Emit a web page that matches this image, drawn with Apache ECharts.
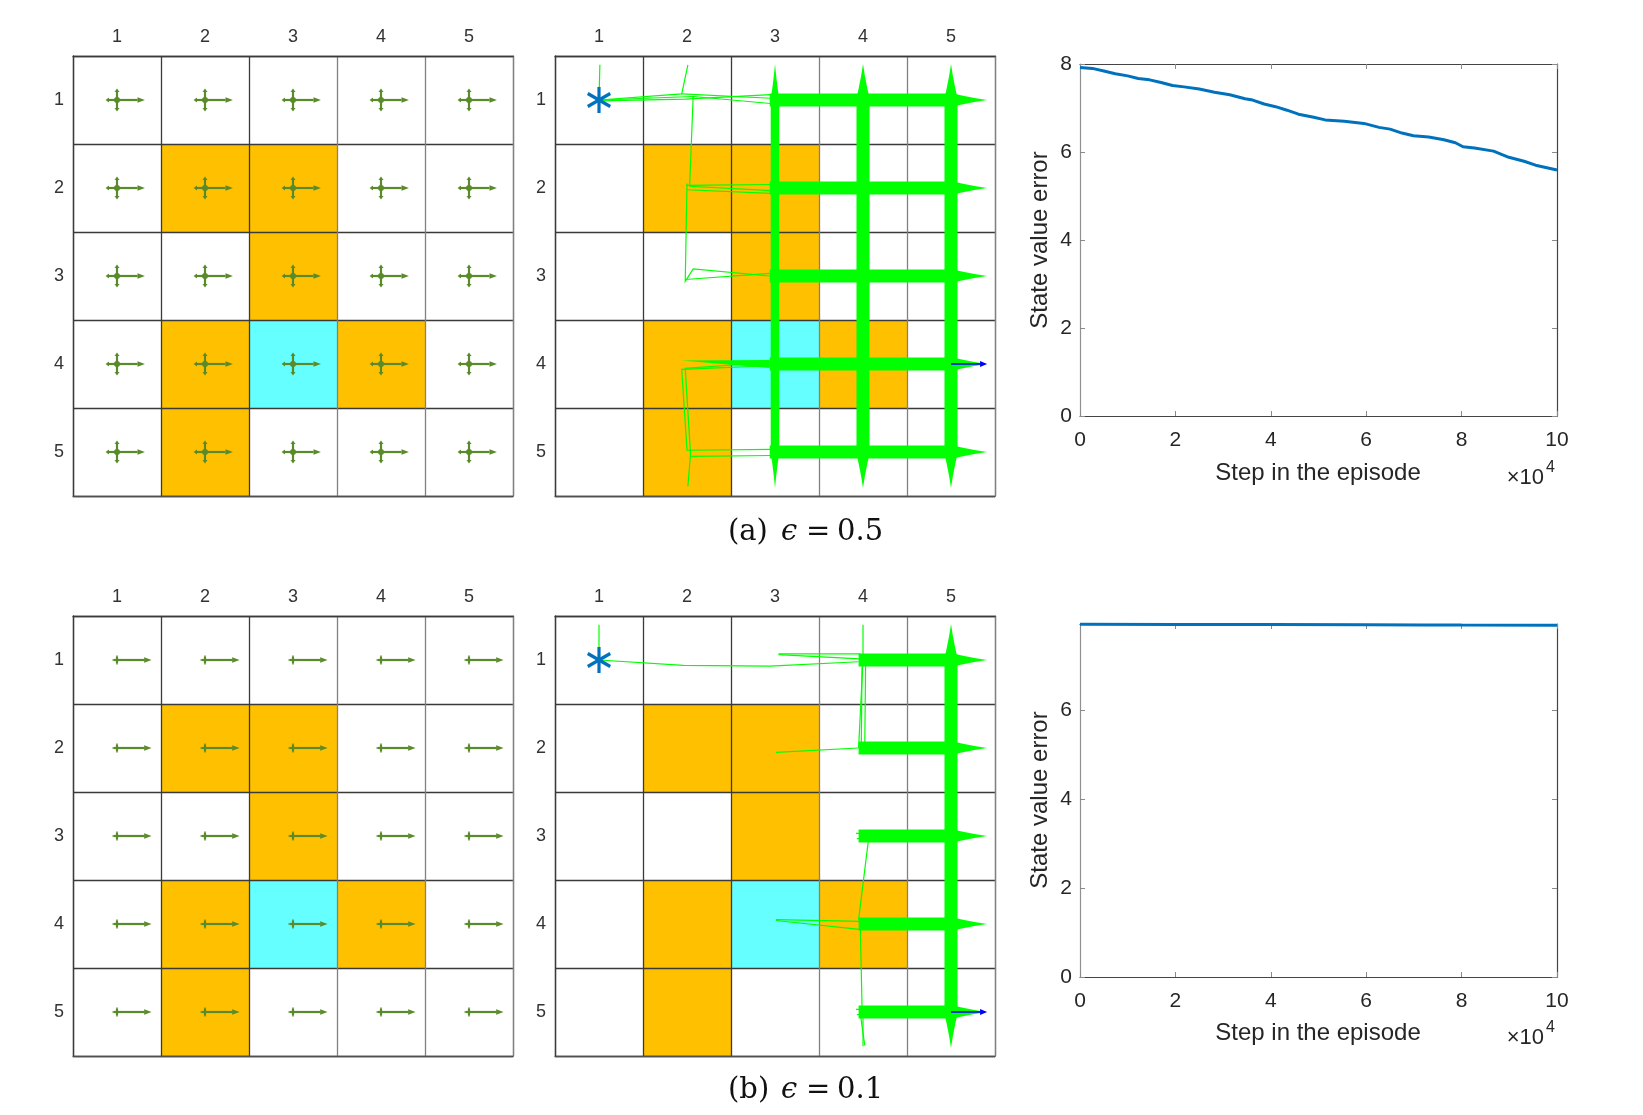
<!DOCTYPE html>
<html><head><meta charset="utf-8">
<script src="https://cdn.jsdelivr.net/npm/echarts@6/dist/echarts.min.js"></script>
<style>html,body{margin:0;padding:0;background:#fff}#c{width:1643px;height:1115px}</style>
</head><body><div id="c"></div>
<script>
// ================= DATA =================
const gridLabels = ['1', '2', '3', '4', '5'];
// grid world cells [col,row]
const forbiddenCells = [[2, 2], [3, 2], [3, 3], [2, 4], [4, 4], [2, 5]];
const targetCells = [[3, 4]];
const startCell = [1, 1];
// epsilon-greedy action probabilities: right, up, down, left, stay
const actionProbA = [0.6, 0.1, 0.1, 0.1, 0.1];   // eps = 0.5
const actionProbB = [0.92, 0.02, 0.02, 0.02, 0.02]; // eps = 0.1

// trajectory bundles: [col1,row1,col2,row2, passes at start, passes at end]
const bundlesA = [
  [2.94, 1, 5, 1, 9000, 9000], [2.94, 2, 5, 2, 9000, 9000], [2.94, 3, 5, 3, 9000, 9000],
  [2.94, 4, 5, 4, 9000, 9000], [2.94, 5, 5, 5, 9000, 9000],
  [4, 1, 4, 5, 9000, 9000], [5, 1, 5, 5, 9000, 9000], [3, 1, 3, 5, 400, 400],
  [1.94, 3.96, 2.94, 4, 0, 300]
];
// boundary bounces: [col,row, dCol,dRow, passes]
const bouncesA = [
  [5, 1, 1, 0, 9000], [5, 2, 1, 0, 9000], [5, 3, 1, 0, 9000], [5, 4, 1, 0, 9000], [5, 5, 1, 0, 9000],
  [3, 1, 0, -1, 300], [4, 1, 0, -1, 9000], [5, 1, 0, -1, 9000],
  [3, 5, 0, 1, 300], [4, 5, 0, 1, 9000], [5, 5, 0, 1, 9000]
];
// sparse single trajectory pieces [[col,row],...]
const thinPathsA = [
  [[1, 1], [1.01, 0.6]],
  [[1, 1], [1.94, 0.93], [2.01, 0.6]],
  [[1, 1], [2.07, 0.96], [2.95, 1.04]],
  [[1, 1.01], [1.98, 0.99], [2.95, 0.94]],
  [[1.94, 0.93], [2.95, 0.98]],
  [[2.07, 0.96], [2.03, 1.98], [2.96, 2.03]],
  [[2.0, 1.95], [1.98, 3.06], [2.07, 2.92], [2.94, 3.0]],
  [[1.99, 1.97], [2.96, 1.96]],
  [[2.0, 2.02], [2.95, 2.06]],
  [[1.98, 3.04], [2.94, 2.97]],
  [[2.94, 4.02], [1.94, 4.06], [2.0, 4.98], [2.96, 4.97]],
  [[2.96, 3.98], [1.98, 4.05], [2.04, 5.02], [2.01, 5.39]],
  [[2.05, 5.05], [2.95, 5.04]]
];
const lastMoveA = [[5, 4, 1, 0]];

const bundlesB = [
  [3.95, 1, 5, 1, 9000, 9000], [3.95, 2, 5, 2, 9000, 9000], [3.95, 3, 5, 3, 9000, 9000],
  [3.95, 4, 5, 4, 9000, 9000], [3.95, 5, 5, 5, 9000, 9000],
  [5, 1, 5, 5, 9000, 9000]
];
const bouncesB = [
  [5, 1, 1, 0, 9000], [5, 2, 1, 0, 9000], [5, 3, 1, 0, 9000], [5, 4, 1, 0, 9000], [5, 5, 1, 0, 9000],
  [5, 1, 0, -1, 9000], [5, 5, 0, 1, 9000]
];
const thinPathsB = [
  [[1, 1], [1, 0.6]],
  [[1, 1], [1.96, 1.06], [2.94, 1.07], [3.95, 1.02]],
  [[3.04, 0.93], [3.97, 0.93]],
  [[3.04, 0.94], [4.02, 0.99]],
  [[4.0, 0.6], [4.0, 1.0], [3.95, 2.0]],
  [[3.99, 0.97], [3.98, 2.01]],
  [[4.03, 1.02], [4.02, 1.99]],
  [[3.01, 2.05], [3.95, 2.0]],
  [[3.96, 3.0], [4.06, 3.06], [3.95, 3.95]],
  [[3.01, 3.95], [3.97, 3.97]],
  [[3.01, 3.96], [3.96, 4.06]],
  [[3.97, 4.05], [3.99, 4.98]],
  [[4.0, 5.0], [4.0, 5.39]],
  [[3.96, 4.95], [4.02, 5.38]],
  [[3.92, 2.97], [4.1, 2.97]], [[3.93, 3.03], [4.1, 3.03]],
  [[3.92, 4.97], [4.1, 4.97]], [[3.93, 5.03], [4.1, 5.03]]
];
const lastMoveB = [[5, 5, 1, 0]];

// state value error vs step (x in units of 1e4 steps)
const stepsA = [0, 0.26, 0.5, 0.74, 1.0, 1.22, 1.46, 1.7, 1.94, 2.18, 2.5, 2.82, 3.14, 3.46, 3.62, 3.86, 4.1, 4.34, 4.58, 4.9, 5.14, 5.54, 5.95, 6.27, 6.5, 6.75, 6.99, 7.31, 7.63, 7.87, 8.03, 8.27, 8.67, 8.99, 9.31, 9.55, 10];
const errorA = [7.92, 7.90, 7.84, 7.78, 7.73, 7.67, 7.64, 7.58, 7.51, 7.48, 7.43, 7.36, 7.30, 7.21, 7.18, 7.09, 7.03, 6.95, 6.86, 6.79, 6.73, 6.70, 6.65, 6.56, 6.52, 6.43, 6.37, 6.34, 6.28, 6.21, 6.12, 6.09, 6.02, 5.88, 5.79, 5.70, 5.59];
const stepsB = [0, 2, 4, 6, 7.2, 8, 10];
const errorB = [7.922, 7.92, 7.918, 7.915, 7.91, 7.906, 7.904];
const xTickMax = 10, xTickStep = 2;
const yMaxA = 8, yMaxB = 7.93, yTickStep = 2;

// ================= STYLE / LAYOUT =================
const FONT = "'Liberation Sans', Arial, Helvetica, sans-serif";
const SERIF = "'DejaVu Serif', 'Liberation Serif', serif";
const ORANGE = '#ffc000', CYAN = '#66ffff';
const ARROW_GREEN = '#5a8a2a', TRAJ = '#00ff00';
const ARROW_SCALE = 0.41;  // cells per sqrt(prob)
const TIP = 0.41;          // bounce spike length (cells)
const widthOf = v => 3.3 * Math.log10(1 + v);
const cc = v => v - 0.5;   // cell index -> axis coordinate

const grids = [
  { left: 73, top: 56, width: 440, height: 440 },
  { left: 555, top: 56, width: 440, height: 440 },
  { left: 1080, top: 64, width: 477, height: 352 },
  { left: 73, top: 616, width: 440, height: 440 },
  { left: 555, top: 616, width: 440, height: 440 },
  { left: 1080, top: 624, width: 477, height: 353 }
].map(g => Object.assign({ outerBoundsMode: 'none', containLabel: false }, g));

const xAxes = [], yAxes = [];
const DARK = '#3a3a3a', GRAY = '#808080';
function worldAxes(gi) {
  xAxes.push({
    gridIndex: gi, type: 'value', min: 0, max: 5, interval: 1, position: 'bottom',
    axisLine: { show: true, onZero: false, lineStyle: { color: '#505050', width: 1.3 } },
    axisTick: { show: false }, axisLabel: { show: false },
    splitLine: { show: true, showMinLine: true, showMaxLine: true, lineStyle: { color: [DARK, DARK, DARK, GRAY, GRAY, GRAY], width: 1.3 } }
  });
  const xi = xAxes.length - 1;
  xAxes.push({
    gridIndex: gi, type: 'category', data: gridLabels, position: 'top', boundaryGap: true,
    axisLine: { show: true, onZero: false, lineStyle: { color: DARK, width: 1.3 } },
    axisTick: { show: false }, splitLine: { show: false },
    axisLabel: { show: true, margin: 10, fontSize: 18, color: '#333', fontFamily: FONT }
  });
  yAxes.push({
    gridIndex: gi, type: 'value', min: 0, max: 5, interval: 1, inverse: true, position: 'right',
    axisLine: { show: true, onZero: false, lineStyle: { color: GRAY, width: 1.3 } },
    axisTick: { show: false }, axisLabel: { show: false },
    splitLine: { show: true, showMinLine: true, showMaxLine: true, lineStyle: { color: DARK, width: 1.3 } }
  });
  const yi = yAxes.length - 1;
  yAxes.push({
    gridIndex: gi, type: 'category', data: gridLabels, inverse: true, position: 'left', boundaryGap: true,
    axisLine: { show: true, onZero: false, lineStyle: { color: DARK, width: 1.3 } },
    axisTick: { show: false }, splitLine: { show: false },
    axisLabel: { show: true, margin: 9, fontSize: 18, color: '#333', fontFamily: FONT, padding: [4, 0, 0, 0] }
  });
  return [xi, yi];
}
function chartAxes(gi, ymax) {
  const tick = { show: true, inside: true, length: 5, lineStyle: { color: '#8a8a8a', width: 1 } };
  const fmtY = v => (Math.abs(v / yTickStep - Math.round(v / yTickStep)) < 1e-6 ? String(v) : '');
  xAxes.push({
    gridIndex: gi, type: 'value', min: 0, max: xTickMax, interval: xTickStep, position: 'bottom',
    axisLine: { show: true, onZero: false, lineStyle: { color: '#444', width: 1.2 } }, axisTick: tick,
    axisLabel: { show: true, margin: 14, fontSize: 21, color: '#262626', fontFamily: FONT },
    splitLine: { show: false }
  });
  const xi = xAxes.length - 1;
  xAxes.push({
    gridIndex: gi, type: 'value', min: 0, max: xTickMax, interval: xTickStep, position: 'top',
    axisLine: { show: true, onZero: false, lineStyle: { color: '#444', width: 1.2 } }, axisTick: tick,
    axisLabel: { show: false }, splitLine: { show: false }
  });
  yAxes.push({
    gridIndex: gi, type: 'value', min: 0, max: ymax, interval: yTickStep, position: 'left',
    axisLine: { show: true, onZero: false, lineStyle: { color: '#909090', width: 1.2 } }, axisTick: tick,
    axisLabel: { show: true, margin: 8, fontSize: 21, color: '#262626', fontFamily: FONT, formatter: fmtY, padding: [4, 0, 0, 0] },
    splitLine: { show: false }
  });
  const yi = yAxes.length - 1;
  yAxes.push({
    gridIndex: gi, type: 'value', min: 0, max: ymax, interval: yTickStep, position: 'right',
    axisLine: { show: true, onZero: false, lineStyle: { color: '#444', width: 1.2 } }, axisTick: tick,
    axisLabel: { show: false }, splitLine: { show: false }
  });
  return [xi, yi];
}

// ================= RENDERERS =================
function cellItem(params, api) {
  const p0 = api.coord([api.value(0) - 1, api.value(1) - 1]);
  const p1 = api.coord([api.value(0), api.value(1)]);
  return {
    type: 'rect',
    shape: { x: Math.min(p0[0], p1[0]), y: Math.min(p0[1], p1[1]), width: Math.abs(p1[0] - p0[0]), height: Math.abs(p1[1] - p0[1]) },
    style: { fill: api.value(2) === 1 ? CYAN : ORANGE }
  };
}
function policyItem(probs) {
  return function (params, api) {
    const c = cc(api.value(0)), r = cc(api.value(1));
    const ctr = api.coord([c, r]);
    const dirs = [[1, 0], [0, -1], [0, 1], [-1, 0]];
    const children = [];
    dirs.forEach((d, i) => {
      const len = ARROW_SCALE * Math.sqrt(probs[i]);
      const end = api.coord([c + d[0] * len, r + d[1] * len]);
      const L = Math.hypot(end[0] - ctr[0], end[1] - ctr[1]);
      const ux = (end[0] - ctr[0]) / L, uy = (end[1] - ctr[1]) / L;
      const hl = Math.min(7.5, L * 0.3), hw = Math.min(2.8, L * 0.22);
      const bx = end[0] - ux * hl, by = end[1] - uy * hl;
      children.push({ type: 'line', shape: { x1: ctr[0], y1: ctr[1], x2: bx, y2: by }, style: { stroke: ARROW_GREEN, lineWidth: 2.2 } });
      children.push({ type: 'polygon', shape: { points: [[end[0], end[1]], [bx - uy * hw, by + ux * hw], [bx + uy * hw, by - ux * hw]] }, style: { fill: ARROW_GREEN } });
    });
    children.push({ type: 'circle', shape: { cx: ctr[0], cy: ctr[1], r: 9.5 * Math.sqrt(probs[4]) }, style: { fill: ARROW_GREEN } });
    return { type: 'group', children };
  };
}
function bundleItem(params, api) {
  const a = api.coord([cc(api.value(0)), cc(api.value(1))]);
  const b = api.coord([cc(api.value(2)), cc(api.value(3))]);
  const w1 = widthOf(api.value(4)) / 2, w2 = widthOf(api.value(5)) / 2;
  const dx = b[0] - a[0], dy = b[1] - a[1], L = Math.hypot(dx, dy);
  const nx = -dy / L, ny = dx / L;
  return {
    type: 'polygon',
    shape: { points: [[a[0] + nx * w1, a[1] + ny * w1], [b[0] + nx * w2, b[1] + ny * w2], [b[0] - nx * w2, b[1] - ny * w2], [a[0] - nx * w1, a[1] - ny * w1]] },
    style: { fill: TRAJ }
  };
}
function tipItem(params, api) {
  const c = cc(api.value(0)), r = cc(api.value(1));
  const base = api.coord([c, r]);
  const end = api.coord([c + api.value(2) * TIP, r + api.value(3) * TIP]);
  const hw = widthOf(api.value(4)) / 2 * 1.08;
  const ux = end[0] - base[0], uy = end[1] - base[1], L = Math.hypot(ux, uy);
  const nx = -uy / L, ny = ux / L;
  const pt = (t, w) => [base[0] + ux * t + nx * w, base[1] + uy * t + ny * w];
  return {
    type: 'polygon',
    shape: { points: [pt(0, hw), pt(0.3, hw * 0.64), pt(0.65, hw * 0.28), pt(1, 0), pt(0.65, -hw * 0.28), pt(0.3, -hw * 0.64), pt(0, -hw)] },
    style: { fill: TRAJ }
  };
}
function lastMoveItem(params, api) {
  const c = cc(api.value(0)), r = cc(api.value(1));
  const s = api.coord([c, r]);
  const e = api.coord([c + api.value(2) * TIP, r + api.value(3) * TIP]);
  const L = Math.hypot(e[0] - s[0], e[1] - s[1]);
  const ux = (e[0] - s[0]) / L, uy = (e[1] - s[1]) / L;
  const hl = 7, hw = 3;
  const bx = e[0] - ux * hl, by = e[1] - uy * hl;
  return {
    type: 'group', children: [
      { type: 'line', shape: { x1: s[0], y1: s[1], x2: bx, y2: by }, style: { stroke: '#0000ff', lineWidth: 1.5 } },
      { type: 'polygon', shape: { points: [[e[0], e[1]], [bx - uy * hw, by + ux * hw], [bx + uy * hw, by - ux * hw]] }, style: { fill: '#0000ff' } }
    ]
  };
}
function starItem(params, api) {
  const p = api.coord([cc(api.value(0)), cc(api.value(1))]);
  const R = 13;
  return {
    type: 'group',
    children: [90, 30, -30].map(a => {
      const rad = a * Math.PI / 180, dx = R * Math.cos(rad), dy = R * Math.sin(rad);
      return { type: 'line', shape: { x1: p[0] - dx, y1: p[1] - dy, x2: p[0] + dx, y2: p[1] + dy }, style: { stroke: '#0072bd', lineWidth: 3.2 } };
    })
  };
}

// ================= BUILD =================
const cellData = forbiddenCells.map(([c, r]) => [c, r, 0]).concat(targetCells.map(([c, r]) => [c, r, 1]));
const allCells = [];
for (let r = 1; r <= 5; r++) for (let c = 1; c <= 5; c++) allCells.push([c, r]);

const series = [];
function worldPanel(gi, probs) {
  const [xi, yi] = worldAxes(gi);
  series.push({ type: 'custom', xAxisIndex: xi, yAxisIndex: yi, z: -1, silent: true, renderItem: cellItem, data: cellData });
  series.push({ type: 'custom', xAxisIndex: xi, yAxisIndex: yi, z: 3, silent: true, renderItem: policyItem(probs), data: allCells });
}
function trajPanel(gi, bundles, bounces, paths, lastMove) {
  const [xi, yi] = worldAxes(gi);
  series.push({ type: 'custom', xAxisIndex: xi, yAxisIndex: yi, z: -1, silent: true, renderItem: cellItem, data: cellData });
  series.push({
    type: 'lines', coordinateSystem: 'cartesian2d', xAxisIndex: xi, yAxisIndex: yi, polyline: true, silent: true, z: 2,
    lineStyle: { color: TRAJ, width: 1.2, opacity: 1 },
    data: paths.map(p => ({ coords: p.map(([c, r]) => [cc(c), cc(r)]) }))
  });
  series.push({ type: 'custom', xAxisIndex: xi, yAxisIndex: yi, z: 2, silent: true, renderItem: bundleItem, data: bundles });
  series.push({ type: 'custom', xAxisIndex: xi, yAxisIndex: yi, z: 2, silent: true, renderItem: tipItem, data: bounces });
  series.push({ type: 'custom', xAxisIndex: xi, yAxisIndex: yi, z: 4, silent: true, renderItem: lastMoveItem, data: lastMove });
  series.push({ type: 'custom', xAxisIndex: xi, yAxisIndex: yi, z: 5, silent: true, renderItem: starItem, data: [startCell] });
}
function errPanel(gi, steps, err, ymax) {
  const [xi, yi] = chartAxes(gi, ymax);
  series.push({
    type: 'line', xAxisIndex: xi, yAxisIndex: yi, showSymbol: false, clip: false, silent: true,
    lineStyle: { color: '#0072bd', width: 3 }, data: steps.map((s, i) => [s, err[i]])
  });
}
worldPanel(0, actionProbA);
trajPanel(1, bundlesA, bouncesA, thinPathsA, lastMoveA);
errPanel(2, stepsA, errorA, yMaxA);
worldPanel(3, actionProbB);
trajPanel(4, bundlesB, bouncesB, thinPathsB, lastMoveB);
errPanel(5, stepsB, errorB, yMaxB);

// text elements
const graphics = [];
function chartTexts(dy) {
  graphics.push({ type: 'text', x: 1318, y: 473 + dy, style: { text: 'Step in the episode', fontSize: 24, fontFamily: FONT, fill: '#262626', align: 'center', verticalAlign: 'middle' } });
  graphics.push({ type: 'text', x: 1040, y: 240 + dy, rotation: Math.PI / 2, style: { text: 'State value error', fontSize: 24, fontFamily: FONT, fill: '#262626', align: 'center', verticalAlign: 'middle' } });
  graphics.push({ type: 'text', x: 1544, y: 478 + dy, style: { text: '×10', fontSize: 22, fontFamily: FONT, fill: '#262626', align: 'right', verticalAlign: 'middle' } });
  graphics.push({ type: 'text', x: 1546, y: 468 + dy, style: { text: '4', fontSize: 16, fontFamily: FONT, fill: '#262626', align: 'left', verticalAlign: 'middle' } });
}
function caption(y, tag, val) {
  const st = (t, x, italic) => ({ type: 'text', x, y, style: { text: t, fontSize: 29, fontFamily: SERIF, fontStyle: italic ? 'italic' : 'normal', fill: '#111', align: 'left', verticalAlign: 'middle' } });
  graphics.push(st(tag, 728), st('ϵ', 781, true), st('=', 806), st(val, 837));
}
chartTexts(0); chartTexts(560);
caption(532, '(a)', '0.5');
caption(1090, '(b)', '0.1');

const chart = echarts.init(document.getElementById('c'), null, { renderer: 'canvas' });
chart.setOption({
  animation: false,
  backgroundColor: '#ffffff',
  grid: grids,
  xAxis: xAxes,
  yAxis: yAxes,
  series: series,
  graphic: { elements: graphics }
});
</script></body></html>
